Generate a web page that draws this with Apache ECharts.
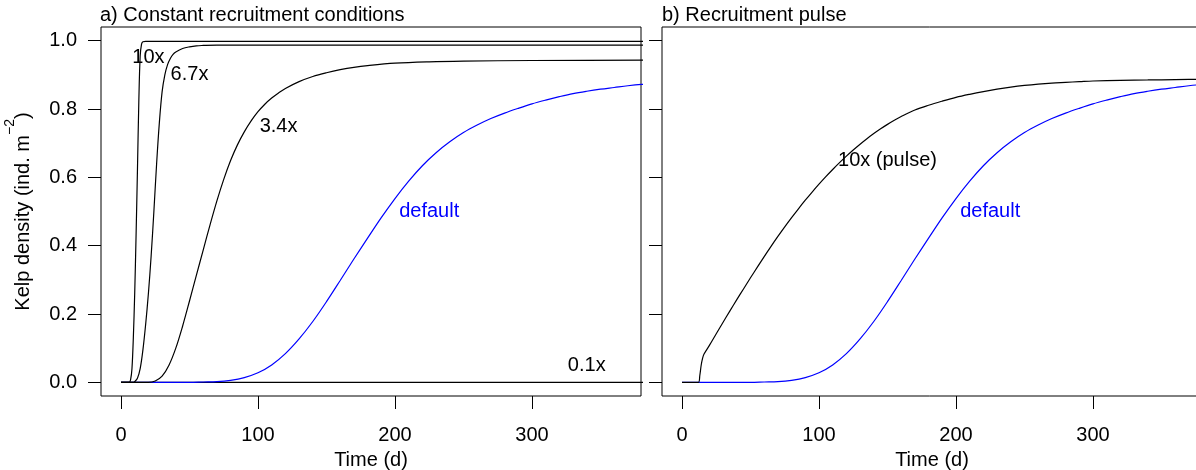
<!DOCTYPE html>
<html><head><meta charset="utf-8">
<script src="https://cdn.jsdelivr.net/npm/echarts@6/dist/echarts.min.js"></script>
<style>html,body{margin:0;padding:0;background:#fff}#c{width:1196px;height:470px}</style>
</head><body><div id="c"></div>
<script>
// ---- tick labels ----
const xTicks = [0, 100, 200, 300];
const yTicks = [0, 0.2, 0.4, 0.6, 0.8, 1.0];

// ---- panel a) constant recruitment ----
const t10x = [0, 6, 7, 8, 9, 10, 11, 12, 13, 14, 15, 16, 18, 20, 400];
const v10x = [0, 0, 0.008, 0.04, 0.13, 0.26, 0.43, 0.62, 0.82, 0.955, 0.99, 0.997, 0.998, 0.998, 0.998];

const t67x = [0, 9, 10, 12, 14, 16, 18, 20, 22, 24, 26, 28, 30, 32, 34, 36, 38, 40, 45, 50, 55, 60, 70, 400];
const v67x = [0, 0, 0.002, 0.012, 0.04, 0.095, 0.17, 0.26, 0.37, 0.5, 0.64, 0.76, 0.85, 0.9, 0.93, 0.948, 0.96, 0.967, 0.977, 0.982, 0.985, 0.986, 0.987, 0.987];

const t34x = [0, 20, 25, 30, 35, 40, 45, 50, 55, 60, 65, 70, 75, 80, 85, 90, 95, 100, 105, 110, 115, 120, 130, 140, 150, 160, 170, 180, 200, 225, 250, 300, 400];
const v34x = [0, 0, 0.004, 0.018, 0.05, 0.1, 0.165, 0.238, 0.313, 0.387, 0.461, 0.531, 0.594, 0.649, 0.695, 0.733, 0.765, 0.792, 0.814, 0.832, 0.847, 0.86, 0.88, 0.895, 0.906, 0.915, 0.922, 0.927, 0.934, 0.938, 0.94, 0.942, 0.943];

const t01x = [0, 400];
const v01x = [0, 0];

const tDefault = [0, 50, 60, 70, 80, 90, 100, 110, 120, 130, 140, 150, 160, 170, 180, 190, 200, 210, 220, 230, 240, 250, 260, 270, 280, 290, 300, 310, 320, 330, 340, 350, 360, 370, 380, 400];
const vDefault = [0, 0, 0.001, 0.002, 0.006, 0.014, 0.028, 0.051, 0.084, 0.127, 0.178, 0.236, 0.298, 0.361, 0.422, 0.482, 0.538, 0.589, 0.634, 0.672, 0.704, 0.731, 0.753, 0.772, 0.788, 0.802, 0.815, 0.826, 0.836, 0.845, 0.852, 0.858, 0.863, 0.868, 0.872, 0.878];

// ---- panel b) recruitment pulse ----
const tPulse = [0, 12, 13, 14, 15, 16, 20, 25, 30, 35, 40, 45, 50, 55, 60, 65, 70, 75, 80, 85, 90, 95, 100, 105, 110, 115, 120, 125, 130, 135, 140, 145, 150, 155, 160, 170, 180, 190, 200, 210, 220, 230, 240, 250, 260, 270, 280, 290, 300, 320, 340, 360, 380, 400];
const vPulse = [0, 0, 0.02, 0.05, 0.07, 0.082, 0.108, 0.142, 0.176, 0.209, 0.242, 0.274, 0.306, 0.337, 0.368, 0.398, 0.427, 0.455, 0.482, 0.508, 0.533, 0.557, 0.58, 0.602, 0.623, 0.643, 0.662, 0.68, 0.697, 0.713, 0.728, 0.742, 0.755, 0.767, 0.778, 0.797, 0.811, 0.823, 0.834, 0.843, 0.851, 0.858, 0.864, 0.869, 0.873, 0.876, 0.878, 0.88, 0.882, 0.884, 0.885, 0.886, 0.887, 0.888];

// ---- curve labels (data coordinates) ----
const labelsA = ['10x', '6.7x', '3.4x', 'default', '0.1x'];
const labelsAx = [20, 50, 115, 225, 340];
const labelsAy = [0.95, 0.9, 0.75, 0.5, 0.05];
const labelsAcol = ['#000', '#000', '#000', '#0000ff', '#000'];
const labelsB = ['10x (pulse)', 'default'];
const labelsBx = [150, 225];
const labelsBy = [0.65, 0.5];
const labelsBcol = ['#000', '#0000ff'];

const FONT = '"Liberation Sans", Arial, Helvetica, sans-serif';
const pairs = (t, v) => t.map((d, i) => [d, v[i]]);

function xAxisCfg(gi) {
  return {
    type: 'value', gridIndex: gi, min: -14.6, max: 379.6,
    name: 'Time (d)', nameLocation: 'middle', nameGap: 54,
    nameTextStyle: { fontSize: 20, color: '#000', fontFamily: FONT },
    axisLine: { show: false, onZero: false }, splitLine: { show: false },
    axisTick: { show: true, length: 13, customValues: xTicks, lineStyle: { color: '#000', width: 1 } },
    axisLabel: { customValues: xTicks, margin: 29, fontSize: 20, color: '#000', fontFamily: FONT }
  };
}
function yAxisCfg(gi, showLabels) {
  const c = {
    type: 'value', gridIndex: gi, min: -0.04, max: 1.04,
    axisLine: { show: false, onZero: false }, splitLine: { show: false },
    axisTick: { show: true, length: 13, customValues: yTicks, lineStyle: { color: '#000', width: 1 } },
    axisLabel: { show: showLabels, customValues: yTicks, margin: 24, fontSize: 20, color: '#000', fontFamily: FONT,
      formatter: v => Number(v).toFixed(1) }
  };
  if (showLabels) {
    c.name = '{n|Kelp density (ind. m}{s|\u22122}{n|)}';
    c.nameLocation = 'middle';
    c.nameRotate = 90;
    c.nameGap = 68;
    c.nameTextStyle = {
      color: '#000', fontFamily: FONT,
      rich: {
        n: { fontSize: 20, lineHeight: 30, verticalAlign: 'bottom', color: '#000', fontFamily: FONT },
        s: { fontSize: 14, lineHeight: 14, verticalAlign: 'top', color: '#000', fontFamily: FONT }
      }
    };
  }
  return c;
}
function lineSeries(gi, t, v, color) {
  return {
    type: 'line', xAxisIndex: gi, yAxisIndex: gi, data: pairs(t, v),
    showSymbol: false, symbol: 'none', smooth: 0.35, clip: true,
    lineStyle: { color: color, width: 1.2 }, silent: true
  };
}
function labelSeries(gi, names, xs, ys, cols) {
  return {
    type: 'scatter', xAxisIndex: gi, yAxisIndex: gi, symbolSize: 0, silent: true,
    itemStyle: { opacity: 1 },
    data: names.map((n, i) => ({ name: n, value: [xs[i], ys[i]],
      label: { show: true, position: 'inside', formatter: '{b}', color: cols[i], opacity: 1, fontSize: 20, fontFamily: FONT } }))
  };
}

const chart = echarts.init(document.getElementById('c'), null, { renderer: 'canvas' });
chart.setOption({
  animation: false,
  backgroundColor: '#fff',
  title: [
    { text: 'a) Constant recruitment conditions', left: 100, top: 5, padding: 0,
      textStyle: { fontSize: 20, fontWeight: 'normal', color: '#000', fontFamily: FONT } },
    { text: 'b) Recruitment pulse', left: 662, top: 5, padding: 0,
      textStyle: { fontSize: 20, fontWeight: 'normal', color: '#000', fontFamily: FONT } }
  ],
  grid: [
    { left: 101, top: 27, width: 540, height: 369, outerBoundsMode: 'none', containLabel: false,
      show: true, borderColor: '#000', borderWidth: 1, backgroundColor: 'transparent' },
    { left: 662, top: 27, width: 540, height: 369, outerBoundsMode: 'none', containLabel: false,
      show: true, borderColor: '#000', borderWidth: 1, backgroundColor: 'transparent' }
  ],
  xAxis: [xAxisCfg(0), xAxisCfg(1)],
  yAxis: [yAxisCfg(0, true), yAxisCfg(1, false)],
  series: [
    lineSeries(0, t01x, v01x, '#000'),
    lineSeries(0, tDefault, vDefault, '#0000ff'),
    lineSeries(0, t34x, v34x, '#000'),
    lineSeries(0, t67x, v67x, '#000'),
    lineSeries(0, t10x, v10x, '#000'),
    labelSeries(0, labelsA, labelsAx, labelsAy, labelsAcol),
    lineSeries(1, tDefault, vDefault, '#0000ff'),
    lineSeries(1, tPulse, vPulse, '#000'),
    labelSeries(1, labelsB, labelsBx, labelsBy, labelsBcol)
  ]
});
</script></body></html>
